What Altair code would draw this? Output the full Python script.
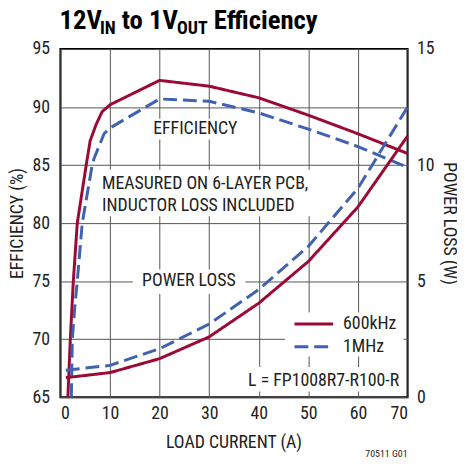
import altair as alt
import pandas as pd

# ---- data ----
eff600_x = [1.5, 1.7, 2.0, 2.6, 3.4, 5.2, 6.0, 7.2, 8.4, 10, 20, 30, 40, 50, 60, 70]
eff600_y = [65, 67, 70, 75, 80, 85, 87.1, 88.5, 89.6, 90.2, 92.3, 91.8, 90.8, 89.3, 87.7, 86.0]
eff1m_x = [2.2, 2.4, 2.9, 3.4, 4.4, 6.4, 6.8, 8.8, 10, 20, 30, 40, 50, 60, 70]
eff1m_y = [65, 70, 72.8, 75, 80, 85, 85.6, 87.7, 88.2, 90.7, 90.5, 89.5, 88.1, 86.6, 84.8]
loss600_x = [1.1, 10, 20, 30, 40, 50, 60, 70]
loss600_y = [0.84, 1.06, 1.66, 2.6, 4.05, 5.85, 8.2, 11.25]
loss1m_x = [1.1, 10, 20, 30, 40, 50, 60, 70]
loss1m_y = [1.16, 1.37, 2.09, 3.15, 4.64, 6.5, 9.0, 12.5]

series_names = ["600kHz", "1MHz"]
x_ticks = [0, 10, 20, 30, 40, 50, 60, 70]
eff_ticks = [65, 70, 75, 80, 85, 90, 95]
loss_ticks = [0, 5, 10, 15]

RED = "#9b0a35"
BLUE = "#4162b0"
FONT = "Roboto Condensed"
TXT = "#222222"

W, H = 351, 352

eff_df = pd.DataFrame(
    [{"x": a, "y": b, "s": series_names[0], "o": i} for i, (a, b) in enumerate(zip(eff600_x, eff600_y))]
    + [{"x": a, "y": b, "s": series_names[1], "o": i} for i, (a, b) in enumerate(zip(eff1m_x, eff1m_y))]
)
loss_df = pd.DataFrame(
    [{"x": a, "p": b, "s": series_names[0], "o": i} for i, (a, b) in enumerate(zip(loss600_x, loss600_y))]
    + [{"x": a, "p": b, "s": series_names[1], "o": i} for i, (a, b) in enumerate(zip(loss1m_x, loss1m_y))]
)

xs = alt.Scale(domain=[0, 70], nice=False, zero=False)
ys = alt.Scale(domain=[65, 95], nice=False, zero=False)
ps = alt.Scale(domain=[0, 15], nice=False, zero=False)
col = alt.Scale(domain=series_names, range=[RED, BLUE])
dash = alt.Scale(domain=series_names, range=[[1, 0], [14, 6]])

x_axis = alt.Axis(
    values=x_ticks, title="LOAD CURRENT (A)", grid=True, ticks=False, domain=False,
    labelPadding=8, titleX=175, titleY=51, titleBaseline="alphabetic", titleAlign="center",
)
eff_axis = alt.Axis(
    values=eff_ticks, title="EFFICIENCY (%)", grid=True, ticks=False, domain=False,
    labelPadding=11, titleX=-43, titleY=176, titleAngle=-90, titleAlign="center",
    titleBaseline="middle",
)

def X(field="x:Q"):
    return alt.X(field, scale=xs, axis=x_axis)

def Y(field="y:Q"):
    return alt.Y(field, scale=ys, axis=eff_axis)

# white boxes behind annotation texts (hide gridlines)
boxes = pd.DataFrame([
    {"x": 17.7, "x2": 36.7, "y": 87.2, "y2": 89.0},
    {"x": 7.4, "x2": 54.0, "y": 80.6, "y2": 84.6},
    {"x": 14.6, "x2": 37.3, "y": 73.9, "y2": 76.0},
    {"x": 45.3, "x2": 69.2, "y": 68.5, "y2": 72.3},
    {"x": 34.3, "x2": 69.2, "y": 65.5, "y2": 67.6},
])
rect = alt.Chart(boxes).mark_rect(color="white").encode(
    x=X(), x2="x2:Q", y=Y(), y2="y2:Q",
)

eff_lines = alt.Chart(eff_df).mark_line(strokeWidth=3).encode(
    x=X(), y=Y(),
    color=alt.Color("s:N", scale=col, legend=None),
    strokeDash=alt.StrokeDash("s:N", scale=dash, legend=None),
    order="o:Q",
)

ann = pd.DataFrame([
    {"x": 27.2, "y": 88.1, "t": "EFFICIENCY"},
    {"x": 25.9, "y": 75.0, "t": "POWER LOSS"},
])
ann_txt = alt.Chart(ann).mark_text(font=FONT, fontSize=18, color=TXT, baseline="middle", align="center").encode(
    x=X(), y=Y(), text="t:N")

note = pd.DataFrame([
    {"x": 8.4, "y": 83.4, "t": "MEASURED ON 6-LAYER PCB,"},
    {"x": 8.4, "y": 81.5, "t": "INDUCTOR LOSS INCLUDED"},
    {"x": 57.0, "y": 71.3, "t": "600kHz"},
    {"x": 57.0, "y": 69.35, "t": "1MHz"},
])
note_txt = alt.Chart(note).mark_text(font=FONT, fontSize=18, color=TXT, baseline="middle", align="left").encode(
    x=X(), y=Y(), text="t:N")

lbl = pd.DataFrame([{"x": 68.3, "y": 66.4, "t": "L = FP1008R7-R100-R"}])
lbl_txt = alt.Chart(lbl).mark_text(font=FONT, fontSize=18, color=TXT, baseline="middle", align="right").encode(
    x=X(), y=Y(), text="t:N")

leg = pd.DataFrame([
    {"x": 47.2, "x2": 55.0, "y": 71.3, "s": series_names[0]},
    {"x": 47.2, "x2": 55.0, "y": 69.35, "s": series_names[1]},
])
leg_lines = alt.Chart(leg).mark_rule(strokeWidth=3).encode(
    x=X(), x2="x2:Q", y=Y(),
    color=alt.Color("s:N", scale=col, legend=None),
    strokeDash=alt.StrokeDash("s:N", scale=dash, legend=None),
)

# title pieces (with subscripts) and footer
title_parts = pd.DataFrame([
    {"px": -1, "py": -20, "t": "12V", "sz": 27},
    {"px": 40, "py": -15, "t": "IN", "sz": 18},
    {"px": 62, "py": -20, "t": "to 1V", "sz": 27},
    {"px": 118, "py": -15, "t": "OUT", "sz": 18},
    {"px": 155, "py": -20, "t": "Efficiency", "sz": 27},
])
title_txt = alt.Chart(title_parts).mark_text(
    font=FONT, fontWeight="bold", color="black", align="left", baseline="alphabetic"
).encode(
    x=alt.X("px:Q", scale=None), y=alt.Y("py:Q", scale=None), text="t:N",
    size=alt.Size("sz:Q", scale=None, legend=None),
)
footer = alt.Chart(pd.DataFrame([{"t": "70511 G01"}])).mark_text(
    font=FONT, fontSize=10, color=TXT, align="right", baseline="alphabetic"
).encode(x=alt.value(W), y=alt.value(H + 60), text="t:N")

left = alt.layer(rect, eff_lines, ann_txt, note_txt, lbl_txt, leg_lines, title_txt, footer)

loss_lines = alt.Chart(loss_df).mark_line(strokeWidth=3).encode(
    x=X(),
    y=alt.Y("p:Q", scale=ps, axis=alt.Axis(
        orient="right", values=loss_ticks, title="POWER LOSS (W)", grid=False, ticks=False,
        domain=False, labelPadding=9, titleX=41, titleY=176, titleAngle=90,
        titleAlign="center", titleBaseline="middle",
    )),
    color=alt.Color("s:N", scale=col, legend=None),
    strokeDash=alt.StrokeDash("s:N", scale=dash, legend=None),
    order="o:Q",
)

chart = alt.layer(left, loss_lines).resolve_scale(y="independent").properties(
    width=W, height=H,
    autosize=alt.AutoSizeParams(type="none"),
    padding={"left": 53, "top": 39, "right": 50, "bottom": 61},
).configure_view(stroke="black", strokeWidth=2).configure_axis(
    labelFont=FONT, labelFontSize=18, labelColor=TXT,
    titleFont=FONT, titleFontSize=18, titleFontWeight="normal", titleColor=TXT,
    gridColor="#555555", gridWidth=1, gridOpacity=1,
)

chart.save("out.html", embed_options={"renderer": "svg", "actions": False})
